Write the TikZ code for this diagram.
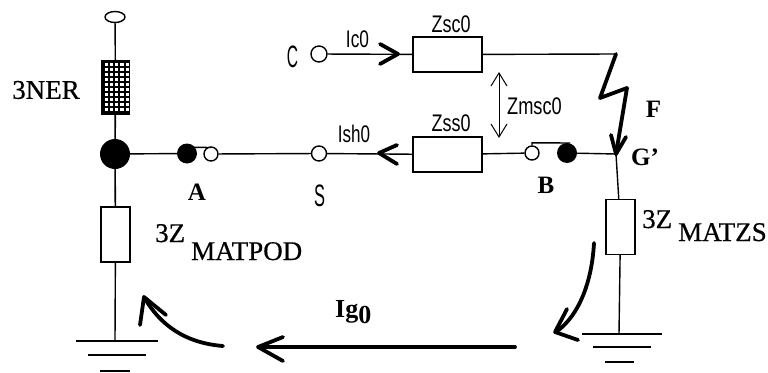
\documentclass[tikz,border=0pt]{standalone}
\usepackage{fontspec}
\setmainfont{Liberation Serif}
\setsansfont{Liberation Sans}
\newfontfamily\semib[FakeBold=0.6]{Liberation Serif}
\usetikzlibrary{shapes.geometric}
\tikzset{
  wire/.style={line width=1.4pt,black},
  heavy/.style={line width=3.8pt,black,line cap=round,line join=round},
  thin arrow/.style={line width=1pt,black},
  imp/.style={draw=black,line width=1.4pt,fill=white,rectangle,minimum width=#1,inner sep=0pt},
  hbox/.style={imp=69pt,minimum height=35pt},
  vbox/.style={imp=29pt,minimum height=55pt},
  open/.style={circle,draw=black,line width=1.4pt,fill=white,minimum size=14pt,inner sep=0pt},
  filled/.style={circle,fill=black,minimum size=20pt,inner sep=0pt},
  serif/.style={font=\semib\fontsize{27}{27}\selectfont,inner sep=0pt},
  serifb/.style={font=\rmfamily\bfseries\fontsize{25}{25}\selectfont,inner sep=0pt},
  sans/.style={font=\sffamily\fontsize{24}{24}\selectfont,inner sep=0pt},
  bigsans/.style={font=\sffamily\fontsize{31}{31}\selectfont,inner sep=0pt},
}
\newcommand{\narrow}[2]{\scalebox{#1}[1]{#2}}
\begin{document}
\begin{tikzpicture}[x=1pt,y=-1pt]
\useasboundingbox (0,0) rectangle (768,372);
% nodes
\node[draw=black,line width=1.4pt,ellipse,minimum width=20pt,minimum height=11pt,inner sep=0pt] (top) at (115,17) {};
\node[rectangle,fill=black,minimum width=29pt,minimum height=55pt,inner sep=0pt] (ner) at (115.5,87.5) {};
\foreach \i in {0,...,4} \foreach \j in {0,...,9}
  \fill[white] ({104.5+\i*5.3},{63+\j*5}) rectangle ++(3.2,3);
\node[filled,minimum size=30pt] (J) at (115,154) {};
\node[filled] (A1) at (187,153.5) {};
\node[open] (A2) at (211,154) {};
\node[open,minimum size=15pt] (S) at (319,153.5) {};
\node[hbox] (Zss) at (447.5,154.5) {};
\node[hbox] (Zsc) at (447.5,54.5) {};
\node[open,minimum size=16pt] (C) at (319,54) {};
\node[open] (B1) at (532,153) {};
\node[filled] (B2) at (567,153) {};
\coordinate (G) at (616,154);
\coordinate (F) at (616,54);
\node[vbox] (Zm) at (620.5,227) {};
\node[vbox] (Zp) at (115.5,234.5) {};
\coordinate (gl) at (115,341);
\coordinate (gr) at (619,334);
% wires
\draw[wire] (top) -- (ner);
\draw[wire,line width=1.6pt] (ner) -- (J);
\draw[wire,line width=1.6pt] (J) -- (Zp);
\draw[wire] (Zp) -- (gl);
\draw[wire] (J) -- (A1);
\draw[wire] (A2) -- (S);
\draw[wire] (S) -- (Zss);
\draw[wire] (Zss) -- (B1);
\draw[wire] (B2) -- (G);
\draw[wire] (G) -- (Zm);
\draw[wire] (Zm) -- (gr);
\draw[wire] (C) -- (Zsc);
\draw[wire] (Zsc) -- (F);
\draw[wire] (A1.north east) ++(-2,1) -- (211,147.5);
\draw[wire] (B1.north) -- ++(0,-2.5) -- (570,143);
% grounds
\draw[wire] (76,341) -- (158,341) (88,355) -- (146,355) (100,371) -- (130,371);
\draw[wire] (582,334) -- (662,334) (593,347) -- (651,347);
\draw[wire,line width=1.6pt] (605,362) -- (634,362);
% heads
\draw[heavy] (380,44) -- (398,54) -- (380,64);
\draw[heavy] (397,145) -- (379,153) -- (397,164);
% mutual
\draw[thin arrow] (499,73) -- (499,136);
\draw[thin arrow] (491,86) -- (499,73) -- (507,86);
\draw[thin arrow] (491,124) -- (499,137) -- (507,124);
% fault
\draw[heavy] (F) -- (600,98) -- (627,88) -- (G);
\draw[heavy] (611,135) -- (G) -- (626,137);
% current arrows
\draw[heavy] (515,347) -- (259,347);
\draw[heavy] (283,337) -- (258,347) -- (283,361);
\draw[heavy] (223,346) .. controls (185,343) and (160,325) .. (144,297);
\draw[heavy] (140,325) -- (144,297) -- (166,315);
\draw[heavy] (594,243) .. controls (592,280) and (580,315) .. (556,332);
\draw[heavy] (567,309) -- (555,332) -- (578,340);
% labels
\node[serif] (tNER) at (46,90) {3NER};
\node[serifb] (tA) at (197,192) {A};
\node[serifb] (tB) at (546,185) {B};
\node[serifb] (tF) at (653.5,109) {F};
\node[serifb] (tG) at (645,157.5) {G'};
\node[bigsans] (tC) at (292.5,56.5) {\narrow{.5}{C}};
\node[bigsans] (tS) at (319.5,195.5) {\narrow{.53}{S}};
\node[sans] (tIc) at (357.5,39) {\narrow{.72}{Ic0}};
\node[sans] (tIs) at (354,134) {\narrow{.71}{Ish0}};
\node[sans] (tZsc) at (451,24) {\narrow{.75}{Zsc0}};
\node[sans] (tZss) at (451,123) {\narrow{.75}{Zss0}};
\node[sans] (tZm) at (534.5,106.5) {\narrow{.76}{Zmsc0}};
\node[serifb,font=\rmfamily\bfseries\fontsize{26}{26}\selectfont,anchor=base west] (tIg) at (335,317) {Ig\raisebox{-6pt}{0}};
\node[serif,anchor=base west] (t3a) at (155,242) {3Z};
\node[serif,anchor=base west] (tMP) at (191,260) {MATPOD};
\node[serif,anchor=base west] (t3b) at (642,228) {3Z};
\node[serif,anchor=base west] (tMZ) at (678,241) {MATZS};
\end{tikzpicture}
\end{document}
